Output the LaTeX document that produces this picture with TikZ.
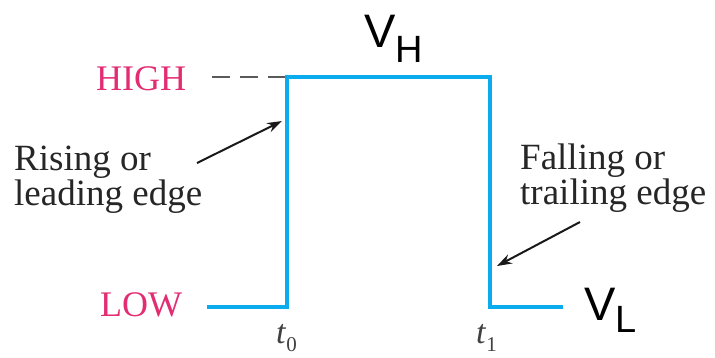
\documentclass[tikz,border=0pt]{standalone}
\usepackage{fontspec}
\setmainfont{Liberation Serif}
\newfontfamily\arialf{Liberation Sans}
\usetikzlibrary{arrows.meta}
\definecolor{pulsecol}{RGB}{10,172,238}
\definecolor{levelcol}{RGB}{226,45,115}
\definecolor{dashcol}{RGB}{90,90,90}
\tikzset{
  pulse/.style={draw=pulsecol,line width=4pt,line join=miter},
  levellbl/.style={inner sep=0pt,text=levelcol,font=\fontsize{36}{36}\selectfont},
  edgelbl/.style={inner sep=0pt,align=left,text=black!85,font=\fontsize{37}{30}\selectfont},
  volt/.style={inner sep=0pt,font=\arialf\fontsize{47}{47}\selectfont},
  timelbl/.style={inner sep=0pt,text=black!75,font=\fontsize{34}{34}\selectfont},
  pointer/.style={draw=black!90,line width=2pt,-{Stealth[length=15pt,width=10pt]}},
  guide/.style={draw=dashcol,line width=2.2pt,dash pattern=on 18pt off 10pt}
}
\begin{document}
\begin{tikzpicture}[x=1pt,y=-1pt]
\useasboundingbox (0,0) rectangle (715,357);
% pulse corners
\coordinate (s) at (207,307);
\coordinate (r0) at (287,307);
\coordinate (r1) at (287,77);
\coordinate (f1) at (490,77);
\coordinate (f0) at (490,307);
\coordinate (e) at (563,307);
\coordinate (d) at (212,77);
\draw[guide] (d) -- (r1);
\draw[pulse] (s) -- (r0) -- (r1) -- (f1) -- (f0) -- (e);
% level labels
\node[levellbl,anchor=base west] (high) at (96,90) {HIGH};
\node[levellbl,anchor=base west] (low) at (100,316) {LOW};
% edge labels (base = baseline of last line)
\node[edgelbl,anchor=base west] (rise) at (14,205) {Rising or\\leading edge};
\node[edgelbl,anchor=base west] (fall) at (520,204) {Falling or\\trailing edge};
% pointers
\coordinate (ra) at (197,163);
\coordinate (rb) at (282,121);
\coordinate (fa) at (580,222);
\coordinate (fb) at (497,266);
\draw[pointer] (ra) -- (rb);
\draw[pointer] (fa) -- (fb);
% times
\node[timelbl,anchor=base west] (t0) at (276,343) {\textit{t}\raisebox{-8pt}{\fontsize{21}{21}\selectfont 0}};
\node[timelbl,anchor=base west] (t1) at (476,343) {\textit{t}\raisebox{-8pt}{\fontsize{21}{21}\selectfont 1}};
% voltage labels
\node[volt,anchor=base west] (vh) at (364,47) {V\raisebox{-15pt}{\fontsize{38}{38}\selectfont H}};
\node[volt,anchor=base west] (vl) at (584,320) {V\raisebox{-12pt}{\fontsize{38}{38}\selectfont L}};
\end{tikzpicture}
\end{document}
